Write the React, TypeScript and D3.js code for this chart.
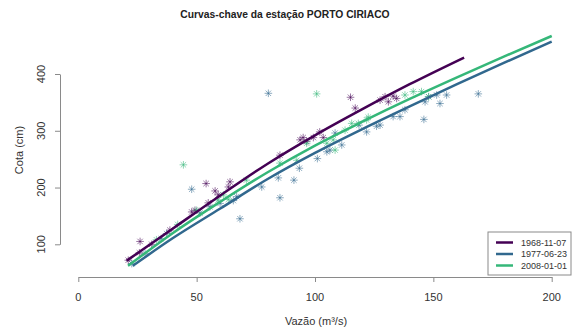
import { useEffect, useRef } from "react";
import * as d3 from "d3";

// rating curves (vazão m³/s -> cota cm)
const curveNames = ["1968-11-07", "1977-06-23", "2008-01-01"];
const curveColors = ["#440154", "#31688E", "#35B779"];

const curve1968Q = [20.4, 40, 60, 80, 100, 120, 140, 163];
const curve1968H = [71, 128, 186, 242, 292, 338, 382, 429];
const curve1977Q = [23, 40, 60, 80, 100, 120, 140, 160, 180, 200];
const curve1977H = [62, 111, 163, 215, 261, 303, 343, 382, 420, 457];
const curve2008Q = [21, 40, 60, 80, 100, 120, 140, 160, 180, 200];
const curve2008H = [62, 120, 175, 227, 274, 316, 356, 394, 431, 467];

// measurements
const obs1968Q = [21.1, 26.1, 25.8, 31, 38.7, 47.9, 49.3, 54, 57.8, 54.9, 59.1, 64.1, 63.4, 85.2, 93.7, 95, 99.3, 102, 96.5, 103.5, 115, 117, 127.5, 129.6, 133, 134.5, 131];
const obs1968H = [72, 105, 85, 100, 125, 157, 160, 207, 194, 173, 187, 210, 201, 257, 284, 288, 288, 298, 281, 288, 359, 340, 354, 360, 361, 357, 351];
const obs1977Q = [22.6, 28.2, 35, 37.3, 47.9, 51.4, 55.6, 59.9, 65.5, 68.3, 66.9, 77.5, 80.3, 85.2, 84.5, 91.1, 93.4, 101, 105, 108.5, 106.3, 111.3, 118.6, 121.8, 126, 127.5, 133, 135.9, 138, 146, 146.5, 151.4, 152.8, 155.6, 148, 169];
const obs1977H = [66, 84, 110, 119, 197, 155, 166, 172, 177, 145, 184, 201, 366, 182, 217, 213, 234, 251, 263, 296, 266, 275, 310, 298, 308, 310, 325, 325, 337, 320, 351, 363, 348, 363, 360, 365];
const obs2008Q = [33, 42, 44.4, 50, 59, 61.3, 63.4, 71, 85.2, 92.3, 96.5, 100.7, 105, 107.7, 108.5, 112.7, 115.5, 118.3, 121.8, 122.5, 138, 141.5, 145, 148];
const obs2008H = [108, 135, 240, 160, 178, 187, 179, 213, 243, 248, 278, 365, 278, 284, 266, 301, 313, 313, 319, 324, 363, 369, 369, 360];

const xTicks = [0, 50, 100, 150, 200];
const yTicks = [100, 200, 300, 400];

export default function App() {
  const svgRef = useRef<SVGSVGElement>(null);

  useEffect(() => {
    if (!svgRef.current) return;
    const svg = d3.select(svgRef.current);
    svg.selectAll("*").remove();

    const x = d3.scaleLinear().domain([0, 200]).range([78.3, 551.7]);
    const y = d3.scaleLinear().domain([100, 400]).range([244.3, 74]);
    const font = "Liberation Sans, Arial, sans-serif";
    const axisColor = "#8a8a8a";
    const textColor = "#333";

    // title
    svg
      .append("text")
      .attr("x", 285)
      .attr("y", 18)
      .attr("text-anchor", "middle")
      .attr("font-family", font)
      .attr("font-size", "10.3px")
      .attr("font-weight", "bold")
      .attr("fill", "#222")
      .text("Curvas-chave da estação PORTO CIRIACO");

    // x axis
    const xAxis = svg
      .append("g")
      .attr("transform", "translate(0,277)")
      .call(d3.axisBottom(x).tickValues(xTicks).tickSize(5).tickSizeOuter(0).tickFormat(() => ""));
    xAxis.selectAll("path, line").attr("stroke", axisColor);
    svg
      .selectAll(".xlab")
      .data(xTicks)
      .enter()
      .append("text")
      .attr("x", (d) => x(d))
      .attr("y", 301)
      .attr("text-anchor", "middle")
      .attr("font-family", font)
      .attr("font-size", "11px")
      .attr("fill", textColor)
      .text((d) => d);

    // y axis
    const yAxis = svg
      .append("g")
      .attr("transform", "translate(60,0)")
      .call(d3.axisLeft(y).tickValues(yTicks).tickSize(5).tickSizeOuter(0).tickFormat(() => ""));
    yAxis.selectAll("path, line").attr("stroke", axisColor);
    svg
      .selectAll(".ylab")
      .data(yTicks)
      .enter()
      .append("text")
      .attr("transform", (d) => `translate(45,${y(d)}) rotate(-90)`)
      .attr("text-anchor", "middle")
      .attr("font-family", font)
      .attr("font-size", "11px")
      .attr("fill", textColor)
      .text((d) => d);

    svg
      .append("text")
      .attr("x", 316)
      .attr("y", 325)
      .attr("text-anchor", "middle")
      .attr("font-family", font)
      .attr("font-size", "11px")
      .attr("fill", textColor)
      .text("Vazão (m³/s)");
    svg
      .append("text")
      .attr("transform", "translate(23,150) rotate(-90)")
      .attr("text-anchor", "middle")
      .attr("font-family", font)
      .attr("font-size", "11px")
      .attr("fill", textColor)
      .text("Cota (cm)");

    // points (asterisks)
    const star = "M-3.8,0H3.8M0,-3.8V3.8M-2.7,-2.7L2.7,2.7M-2.7,2.7L2.7,-2.7";
    const obs = [
      [obs1968Q, obs1968H],
      [obs1977Q, obs1977H],
      [obs2008Q, obs2008H],
    ];
    obs.forEach(([qs, hs], i) => {
      svg
        .append("g")
        .selectAll("path")
        .data(qs.map((q, j) => [q, hs[j]]))
        .enter()
        .append("path")
        .attr("d", star)
        .attr("transform", (d) => `translate(${x(d[0])},${y(d[1])})`)
        .attr("fill", "none")
        .attr("stroke", curveColors[i])
        .attr("stroke-opacity", 0.55)
        .attr("stroke-width", 1);
    });

    // rating curves
    const curves = [
      [curve1968Q, curve1968H],
      [curve1977Q, curve1977H],
      [curve2008Q, curve2008H],
    ];
    const line = d3
      .line<number[]>()
      .x((d) => x(d[0]))
      .y((d) => y(d[1]))
      .curve(d3.curveMonotoneX);
    curves.forEach(([qs, hs], i) => {
      svg
        .append("path")
        .attr("d", line(qs.map((q, j) => [q, hs[j]])))
        .attr("fill", "none")
        .attr("stroke", curveColors[i])
        .attr("stroke-width", 2.5);
    });

    // legend
    const lg = svg.append("g").attr("transform", "translate(488,232)");
    lg.append("rect")
      .attr("width", 83)
      .attr("height", 43)
      .attr("fill", "white")
      .attr("stroke", axisColor);
    curveNames.forEach((name, i) => {
      const ly = 10.5 + i * 11.5;
      lg.append("line")
        .attr("x1", 8)
        .attr("x2", 25)
        .attr("y1", ly)
        .attr("y2", ly)
        .attr("stroke", curveColors[i])
        .attr("stroke-width", 2.5);
      lg.append("text")
        .attr("x", 33)
        .attr("y", ly + 3.2)
        .attr("font-family", font)
        .attr("font-size", "9px")
        .attr("fill", textColor)
        .text(name);
    });
  }, []);

  return (
    <svg
      ref={svgRef}
      width={579}
      height={333}
      style={{ position: "absolute", left: 0, top: 0, background: "white" }}
    />
  );
}
